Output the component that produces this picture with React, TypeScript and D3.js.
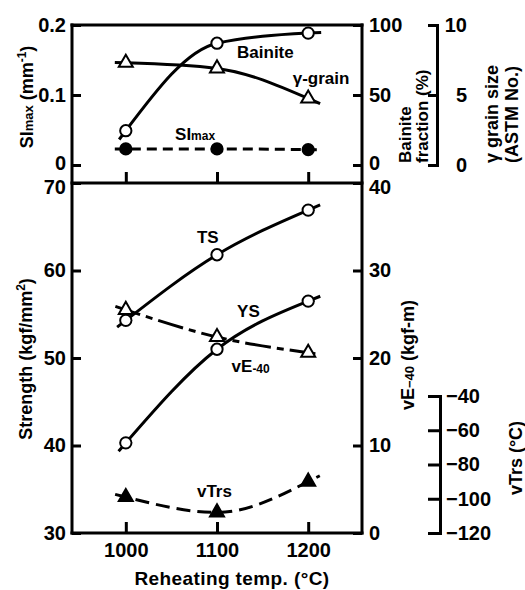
import { useEffect, useRef } from 'react'
import * as d3 from 'd3'

// reheating temperature (°C)
const temps = [1000, 1100, 1200]

// upper panel
const bainite = [24.5, 87, 94.2]      // bainite fraction (%)
const gammaGrain = [7.3, 6.9, 4.75]   // γ grain size (ASTM No.)
const siMax = [0.023, 0.023, 0.022]   // SImax (mm-1)

// lower panel
const ts = [54.3, 61.8, 66.9]    // kgf/mm2
const ys = [40.3, 51.0, 56.5]    // kgf/mm2
const vE40 = [25.5, 22.4, 20.6]  // kgf-m
const vTrs = [-99, -108, -90]    // °C

// tick values
const siTicks = [0, 0.1, 0.2]
const bainiteTicks = [0, 50, 100]
const grainTicks = [0, 5, 10]
const strengthTicks = [30, 40, 50, 60, 70]
const vETicks = [0, 10, 20, 30, 40]
const vTrsTicks = [-120, -100, -80, -60, -40]

const FONT = '"Liberation Sans", Arial, Helvetica, sans-serif'

export default function App() {
  const ref = useRef<SVGSVGElement>(null)

  useEffect(() => {
    const left = 72, right = 362
    const top = 25, zero = 165, mid = 183, bottom = 533

    const svg = d3.select(ref.current)
    svg.selectAll('*').remove()
    svg.attr('font-family', FONT).attr('font-weight', 'bold')

    // scales
    const x = d3.scaleLinear().domain([941, 1259]).range([left, right])
    const ySI = d3.scaleLinear().domain([0, 0.2]).range([zero, top])
    const yBain = d3.scaleLinear().domain([0, 100]).range([zero, top])
    const yGrain = d3.scaleLinear().domain([0, 10]).range([zero, top])
    const yStr = d3.scaleLinear().domain([30, 70]).range([bottom, mid])
    const yVE = d3.scaleLinear().domain([0, 40]).range([bottom, mid])
    const yTrs = d3.scaleLinear().domain([-120, -40]).range([bottom, 396])

    const fmt = d3.format('d')

    const styleAxis = (g, keepDomain = false) => {
      g.attr('font-family', null).attr('font-size', null)
      if (!keepDomain) g.select('.domain').remove()
      else g.select('.domain').attr('stroke-width', 3).attr('stroke-linejoin', 'miter')
      g.selectAll('line').attr('stroke-width', 3)
      g.selectAll('text').attr('font-size', 20).attr('fill', '#000')
    }
    // labels sitting at the panel boundary are nudged apart, as in the original
    const nudge = (g, lo, hi) => g.selectAll('.tick text')
      .attr('dy', d => d === lo ? '0.52em' : d === hi ? '0.22em' : '0.32em')

    // frame
    const frame = svg.append('g').attr('stroke', '#000').attr('stroke-width', 3).attr('stroke-linecap', 'square')
    frame.append('line').attr('x1', left).attr('x2', left).attr('y1', top).attr('y2', bottom)
    frame.append('line').attr('x1', right).attr('x2', right).attr('y1', top).attr('y2', bottom)
    ;[top, mid, bottom].forEach(yy => frame.append('line').attr('x1', left).attr('x2', right).attr('y1', yy).attr('y2', yy))

    // left axes
    svg.append('g').attr('transform', `translate(${left},0)`)
      .call(d3.axisLeft(ySI).tickValues(siTicks).tickSizeInner(-9).tickSizeOuter(0).tickPadding(6)
        .tickFormat(d => d === 0 ? '0' : d3.format('.1f')(d)))
      .call(g => styleAxis(g))
      .call(g => nudge(g, null, 0))
    svg.append('g').attr('transform', `translate(${left},0)`)
      .call(d3.axisLeft(yStr).tickValues(strengthTicks).tickSizeInner(-9).tickSizeOuter(0).tickPadding(6).tickFormat(fmt))
      .call(g => styleAxis(g))
      .call(g => nudge(g, 70, null))

    // right axes
    svg.append('g').attr('transform', `translate(${right},0)`)
      .call(d3.axisRight(yBain).tickValues(bainiteTicks).tickSizeInner(-9).tickSizeOuter(0).tickPadding(7).tickFormat(fmt))
      .call(g => styleAxis(g))
      .call(g => nudge(g, null, 0))
    svg.append('g').attr('transform', `translate(${right},0)`)
      .call(d3.axisRight(yVE).tickValues(vETicks).tickSizeInner(-9).tickSizeOuter(0).tickPadding(7).tickFormat(fmt))
      .call(g => styleAxis(g))
      .call(g => nudge(g, 40, null))

    // bracket axes
    svg.append('g').attr('transform', 'translate(437,0)')
      .call(d3.axisRight(yGrain).tickValues(grainTicks).tickSizeInner(-9).tickSizeOuter(-9).tickPadding(30).tickFormat(fmt))
      .call(g => styleAxis(g, true))
      .call(g => g.selectAll('text').attr('text-anchor', 'end'))
    svg.append('g').attr('transform', 'translate(440,0)')
      .call(d3.axisRight(yTrs).tickValues(vTrsTicks).tickSizeInner(-12).tickSizeOuter(-12).tickPadding(6).tickFormat(fmt))
      .call(g => styleAxis(g, true))

    // x axes
    svg.append('g').attr('transform', `translate(0,${bottom})`)
      .call(d3.axisBottom(x).tickValues(temps).tickSizeInner(-11).tickSizeOuter(0).tickPadding(10).tickFormat(fmt))
      .call(g => styleAxis(g))
    svg.append('g').attr('transform', `translate(0,${mid})`)
      .call(d3.axisBottom(x).tickValues(temps).tickSizeInner(-11).tickSizeOuter(0).tickFormat(() => ''))
      .call(g => styleAxis(g))

    // series lines: smooth curve through the points, with short overhang at both ends
    const drawLine = (values, yScale, dash) => {
      const pts = temps.map((t, i) => [x(t), yScale(values[i])])
      const d = d3.line().curve(d3.curveMonotoneX)(pts)
      const path = svg.append('path')
        .attr('d', d).attr('fill', 'none').attr('stroke', '#000')
        .attr('stroke-width', 3).attr('stroke-dasharray', dash)
      const node = path.node()
      const len = node.getTotalLength()
      const ext = (p, q, s) => {
        const dx = p.x - q.x, dy = p.y - q.y, n = Math.hypot(dx, dy) || 1
        return [p.x + dx / n * s, p.y + dy / n * s]
      }
      const s0 = ext(node.getPointAtLength(0), node.getPointAtLength(3), 11)
      const s1 = ext(node.getPointAtLength(len), node.getPointAtLength(len - 3), 13)
      path.attr('d', `M${s0}L${d.slice(1)}L${s1}`)
    }

    const drawMarks = (values, yScale, shape, filled) => {
      const sym = d3.symbol(shape === 'circle' ? d3.symbolCircle : d3.symbolTriangle, shape === 'circle' ? 100 : 85)
      svg.append('g').selectAll('path').data(values).join('path')
        .attr('transform', (v, i) => `translate(${x(temps[i])},${yScale(v)})`)
        .attr('d', sym)
        .attr('fill', filled ? '#000' : '#fff')
        .attr('stroke', '#000').attr('stroke-width', 2)
    }

    drawLine(bainite, yBain, null)
    drawLine(gammaGrain, yGrain, null)
    drawLine(siMax, ySI, '10,6')
    drawLine(ts, yStr, null)
    drawLine(ys, yStr, null)
    drawLine(vE40, yVE, '26,6,7,6')
    drawLine(vTrs, yTrs, '14,7')

    drawMarks(bainite, yBain, 'circle', false)
    drawMarks(gammaGrain, yGrain, 'triangle', false)
    drawMarks(siMax, ySI, 'circle', true)
    drawMarks(ts, yStr, 'circle', false)
    drawMarks(ys, yStr, 'circle', false)
    drawMarks(vE40, yVE, 'triangle', false)
    drawMarks(vTrs, yTrs, 'triangle', true)

    // in-plot labels (data coordinates)
    const lab = (t, yv, yScale) => svg.append('text').attr('x', x(t)).attr('y', yScale(yv)).attr('font-size', 17)
    lab(1122, 76.4, yBain).text('Bainite')
    lab(1183, 57.9, yBain).text('γ-grain')
    const si = lab(1054, 17.9, yBain)
    si.append('tspan').text('SI')
    si.append('tspan').attr('font-size', 12).text('max')
    lab(1078, 63.1, yStr).text('TS')
    lab(1122, 54.7, yStr).text('YS')
    const ve = lab(1116, 48.4, yStr)
    ve.append('tspan').text('vE')
    ve.append('tspan').attr('font-size', 12).attr('dy', 1).text('-40')
    lab(1078, 34.1, yStr).text('vTrs')

    // axis titles
    const vtext = (cx, cy, anchor) => svg.append('text')
      .attr('transform', `translate(${cx},${cy}) rotate(-90)`)
      .attr('text-anchor', anchor).attr('font-size', 18)

    const t1 = vtext(33, 97, 'middle')
    t1.append('tspan').text('SI')
    t1.append('tspan').attr('font-size', 13).text('max')
    t1.append('tspan').text(' (mm')
    t1.append('tspan').attr('font-size', 12).attr('dy', -7).text('-1')
    t1.append('tspan').attr('dy', 7).text(')')

    const t2 = vtext(32, 359, 'middle')
    t2.append('tspan').text('Strength (kgf/mm')
    t2.append('tspan').attr('font-size', 12).attr('dy', -7).text('2')
    t2.append('tspan').attr('dy', 7).text(')')

    vtext(411, 163, 'start').attr('font-size', 17).text('Bainite')
    vtext(428, 163, 'start').attr('font-size', 17).text('fraction (%)')
    vtext(498, 163, 'start').text('γ grain size')
    vtext(518, 163, 'start').text('(ASTM No.)')

    const t3 = vtext(414, 355, 'middle')
    t3.append('tspan').text('vE')
    t3.append('tspan').attr('font-size', 13).text('−40')
    t3.append('tspan').text(' (kgf-m)')

    vtext(522, 458, 'middle').text('vTrs (°C)')

    svg.append('text').attr('x', 232).attr('y', 585).attr('text-anchor', 'middle')
      .attr('font-size', 19).attr('letter-spacing', 0.4).text('Reheating temp. (°C)')
  }, [])

  return (
    <svg
      ref={ref}
      width={525}
      height={590}
      style={{ position: 'absolute', left: 0, top: 0, background: '#fff' }}
    />
  )
}
